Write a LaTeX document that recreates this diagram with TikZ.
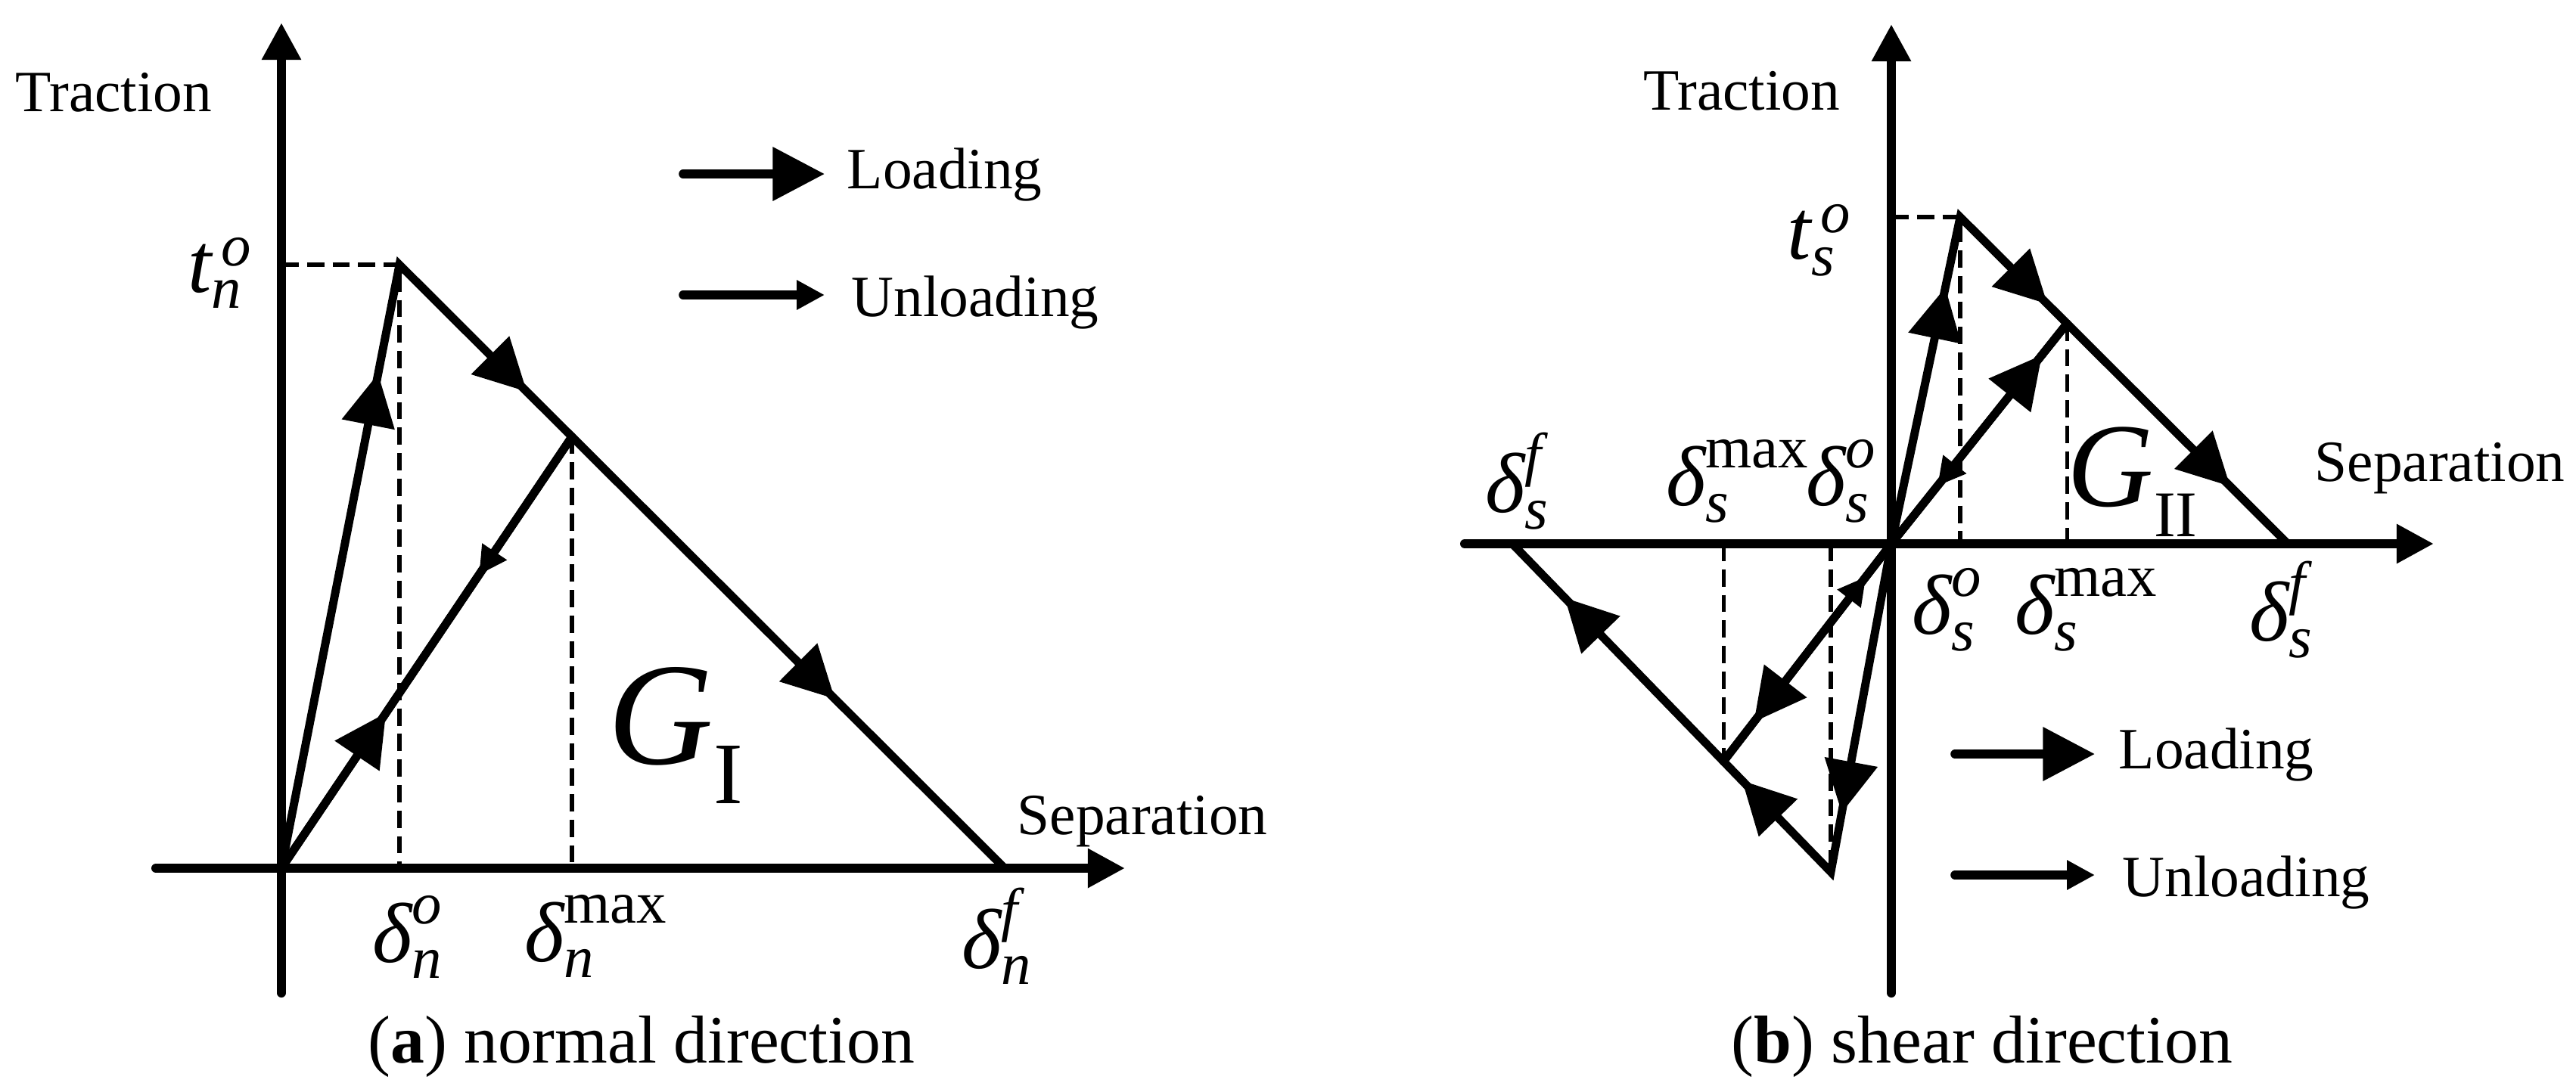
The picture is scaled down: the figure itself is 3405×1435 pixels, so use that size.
\documentclass[tikz,border=0pt]{standalone}
\usepackage{amsmath}
\usepackage{fontspec}
\setmainfont{Liberation Serif}
\usetikzlibrary{arrows.meta,calc,positioning}
\usetikzlibrary{decorations.markings}

\begin{document}
\begin{tikzpicture}[x=0.01cm,y=-0.01cm,
  bigtip/.tip={Triangle[length=19.5pt,width=19.5pt]},
  smalltip/.tip={Triangle[length=10.5pt,width=10.5pt]},
  axistip/.tip={Triangle[length=14pt,width=14pt]},
  axis/.style={line width=3.4pt,line cap=round,-{axistip}},
  curve/.style={line width=3.1pt,line cap=round,line join=miter},
  guide/.style={line width=1.5pt,dash pattern=on 6.5pt off 3.1pt},
  legend/.style={line width=3.3pt,line cap=round},
  load/.style={postaction={decorate,decoration={markings,mark=at position #1 with {\arrow{bigtip}}}}},
  unload/.style={postaction={decorate,decoration={markings,mark=at position #1 with {\arrow{smalltip}}}}},
  lbl/.style={inner sep=0pt,font=\fontsize{22}{26}\selectfont},
  sym/.style={inner sep=0pt,font=\fontsize{32}{38}\selectfont},
  capt/.style={inner sep=0pt,font=\fontsize{25.5}{30}\selectfont}]

\useasboundingbox (0,0) rectangle (3405,1435);

\coordinate (o1) at (372,1148);

\coordinate (a1) at (528,350);

\coordinate (f1) at (1328,1148);

\coordinate (b1) at ($(a1)!0.285!(f1)$);

\coordinate (y1s) at (372,1313);
\coordinate (y1e) at (372,30);
\coordinate (x1s) at (206,1148);
\coordinate (x1e) at (1487,1148);

\draw [axis] (y1s) to (y1e);

\draw [axis] (x1s) to (x1e);

\draw [guide] (o1 |- a1) -- (a1) -- (a1 |- o1);

\draw [guide] (b1) to (b1 |- o1);

\draw [curve,load=0.343,load=0.541,load=0.837] (o1) -- (a1) -- (f1);

\draw [curve,load=0.36] (o1) to (b1);

\draw [curve,unload=0.32] (b1) to (o1);

\node [lbl,anchor=base west] (tr1) at (20,147) {Traction};

\node [sym] (tn) at (291,361) {$\textit{t}^{\,\textit{o}}_{\textit{n}}$};

\node [sym] (dno) at (539,1239) {$\textit{δ}^{\textit{o}}_{\textit{n}}$};
\node [sym] (dnm) at (788,1238) {$\textit{δ}^{\text{max}}_{\textit{n}}$};
\node [sym] (dnf) at (1318,1238) {$\textit{δ}^{\textit{f}}_{\textit{n}}$};

\node [inner sep=0pt,anchor=base west,font=\fontsize{55}{60}\selectfont] (g1) at (803,1010) {\textit{G}\raisebox{-15pt}{\fontsize{33}{33}\selectfont I}};

\node [lbl,anchor=base west] (sp1) at (1344,1103) {Separation};

\coordinate (ld1s) at (903,230);
\coordinate (ld1e) at (1090,230);

\draw [legend,-{bigtip}] (ld1s) to (ld1e);

\node [lbl,right=0.29cm of ld1e,anchor=base west,yshift=-5.4pt] (ld1) {Loading};

\coordinate (ul1s) at (903,390);
\coordinate (ul1e) at (1090,390);

\draw [legend,-{smalltip}] (ul1s) to (ul1e);

\node [lbl,right=0.35cm of ul1e,anchor=base west,yshift=-8pt] (ul1) {Unloading};

\node [capt,anchor=base] (cpa) at (848,1405) {(\textbf{a}) normal direction};

\coordinate (o2) at (2500,719);

\coordinate (a2) at (2591,287);

\coordinate (f2) at (3024,719);

\coordinate (b2) at ($(a2)!0.326!(f2)$);

\coordinate (na2) at (2420,1153);

\coordinate (nf2) at (1999,719);

\coordinate (nb2) at ($(na2)!0.337!(nf2)$);

\coordinate (y2s) at (2500,1313);
\coordinate (y2e) at (2500,32);
\coordinate (x2s) at (1936,719);
\coordinate (x2e) at (3217,719);

\draw [axis] (y2s) to (y2e);

\draw [axis] (x2s) to (x2e);

\draw [guide] (o2 |- a2) -- (a2) -- (a2 |- o2);

\draw [guide] (b2) to (b2 |- o2);

\draw [guide] (na2 |- o2) to (na2);

\draw [guide] (nb2 |- o2) to (nb2);

\draw [curve,load=0.329,load=0.574,load=0.898] (o2) -- (a2) -- (f2);

\draw [curve,load=0.346,load=0.583,load=0.905] (o2) -- (na2) -- (nf2);

\draw [curve,load=0.86] (o2) to (b2);

\draw [curve,unload=0.74] (b2) to (o2);

\draw [curve,load=0.82] (o2) to (nb2);

\draw [curve,unload=0.85] (nb2) to (o2);

\node [lbl,anchor=base west] (tr2) at (2172,145) {Traction};

\node [sym] (ts) at (2405,318) {$\textit{t}^{\,\textit{o}}_{\textit{s}}$};

\node [sym] (ndsf) at (2006,636) {$\textit{δ}^{\textit{f}}_{\textit{s}}$};
\node [sym] (ndsm) at (2297,636) {$\textit{δ}^{\text{max}}_{\textit{s}}$};
\node [sym] (ndso) at (2434,636) {$\textit{δ}^{\textit{o}}_{\textit{s}}$};

\node [sym] (dso) at (2574,806) {$\textit{δ}^{\textit{o}}_{\textit{s}}$};
\node [sym] (dsm) at (2758,806) {$\textit{δ}^{\text{max}}_{\textit{s}}$};
\node [sym] (dsf) at (3016,806) {$\textit{δ}^{\textit{f}}_{\textit{s}}$};

\node [inner sep=0pt,anchor=base west,font=\fontsize{45}{50}\selectfont] (g2) at (2732,669) {\textit{G}\raisebox{-11.4pt}{\fontsize{24.5}{25}\selectfont II}};

\node [lbl,anchor=base west] (sp2) at (3059,636) {Separation};

\coordinate (ld2s) at (2584,997);
\coordinate (ld2e) at (2769,997);

\draw [legend,-{bigtip}] (ld2s) to (ld2e);

\node [lbl,right=0.31cm of ld2e,anchor=base west,yshift=-5.4pt] (ld2) {Loading};

\coordinate (ul2s) at (2584,1157);
\coordinate (ul2e) at (2769,1157);

\draw [legend,-{smalltip}] (ul2s) to (ul2e);

\node [lbl,right=0.36cm of ul2e,anchor=base west,yshift=-8pt] (ul2) {Unloading};

\node [capt,anchor=base] (cpb) at (2620,1405) {(\textbf{b}) shear direction};

\end{tikzpicture}
\end{document}
